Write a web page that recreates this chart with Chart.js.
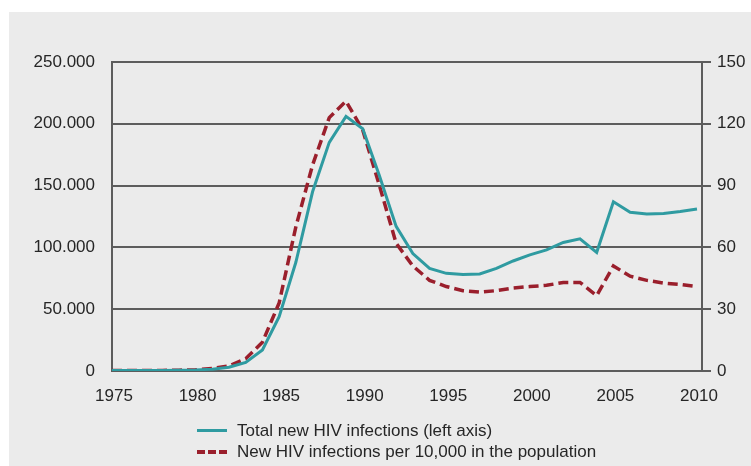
<!DOCTYPE html>
<html>
<head>
<meta charset="utf-8">
<script src="https://cdn.jsdelivr.net/npm/chart.js@4/dist/chart.umd.min.js"></script>
<style>
  body { margin: 0; background: #fff; width: 751px; height: 466px; overflow: hidden; }
  #box { position: absolute; left: 9px; top: 12px; width: 742px; height: 454px; background: #ebebeb; }
  #chart { position: absolute; left: 0; top: 0; }
  #legend { position: absolute; left: 188px; top: 408px; font: 17px "Liberation Sans", Arial, sans-serif; color: #262626; }
  .row { height: 21px; display: flex; align-items: center; }
  .swatch { width: 30px; height: 0; margin-right: 10px; }
</style>
</head>
<body>
<div id="box">
  <canvas id="chart" width="742" height="454"></canvas>
  <div id="legend"></div>
</div>
<script>
  // Données
  const years = [];
  for (let y = 1975; y <= 2010; y++) years.push(y);

  const totalInfections = [
    500, 500, 500, 500, 600, 900, 1500, 3000, 7000, 17000,
    44000, 88000, 145000, 185000, 206000, 196000, 158000, 117000, 95000, 83000,
    79000, 78000, 78500, 83000, 89000, 94000, 98000, 104000, 107000, 96000,
    137000, 128500, 127000, 127500, 129000, 131000
  ];
  const ratePer10000 = [
    0.3, 0.3, 0.3, 0.3, 0.4, 0.6, 1.2, 2.5, 6, 14,
    33, 70, 100, 123, 131, 117, 90, 62, 51, 44,
    41, 39, 38.3, 39, 40.3, 41, 41.6, 43, 43, 36.6,
    51, 46, 44, 42.7, 42, 41
  ];
  const seriesLabels = [
    "Total new HIV infections (left axis)",
    "New HIV infections per 10,000 in the population"
  ];
  const xTicks = [1975, 1980, 1985, 1990, 1995, 2000, 2005, 2010];
  const leftTicks = [0, 50000, 100000, 150000, 200000, 250000];
  const rightTicks = [0, 30, 60, 90, 120, 150];

  const TEAL = "#2f9ba1";
  const RED = "#9a1f2c";
  const GRID = "#5c5c5c";
  const TEXT = "#262626";
  const FONT = { family: "'Liberation Sans', Arial, sans-serif", size: 17 };

  // 250000 -> "250.000"
  function fmt(v) {
    return String(v).replace(/\B(?=(\d{3})+(?!\d))/g, ".");
  }

  const ctx = document.getElementById("chart").getContext("2d");
  const chart = new Chart(ctx, {
    type: "line",
    data: {
      datasets: [
        {
          label: seriesLabels[0],
          data: years.map((y, i) => ({ x: y, y: totalInfections[i] })),
          borderColor: TEAL,
          borderWidth: 3,
          pointRadius: 0,
          tension: 0,
          yAxisID: "y",
        },
        {
          label: seriesLabels[1],
          data: years.map((y, i) => ({ x: y, y: ratePer10000[i] })),
          borderColor: RED,
          borderWidth: 3.5,
          borderDash: [10, 5],
          pointRadius: 0,
          tension: 0,
          yAxisID: "y2",
        },
      ],
    },
    options: {
      responsive: false,
      animation: false,
      layout: { padding: { top: 50, left: 0, right: 0, bottom: 0 } },
      plugins: { legend: { display: false }, tooltip: { enabled: false } },
      scales: {
        x: {
          type: "linear",
          min: 1975,
          max: 2010.3,
          grid: { display: false },
          border: { display: true, color: GRID, width: 2 },
          afterBuildTicks: (s) => { s.ticks = xTicks.map((v) => ({ value: v })); },
          afterFit: (s) => { s.height = 95; },
          ticks: { color: TEXT, font: FONT, padding: 7, labelOffset: 2, maxRotation: 0, callback: (v) => String(v) },
        },
        y: {
          position: "left",
          min: 0,
          max: 250000,
          grid: { color: GRID, lineWidth: 2, drawTicks: false },
          border: { display: true, color: GRID, width: 2 },
          afterBuildTicks: (s) => { s.ticks = leftTicks.map((v) => ({ value: v })); },
          afterFit: (s) => { s.width = 103; },
          ticks: { color: TEXT, font: FONT, padding: 17, callback: (v) => fmt(v) },
        },
        y2: {
          position: "right",
          min: 0,
          max: 150,
          grid: { drawOnChartArea: false, color: GRID, lineWidth: 2, tickLength: 9 },
          border: { display: true, color: GRID, width: 2 },
          afterBuildTicks: (s) => { s.ticks = rightTicks.map((v) => ({ value: v })); },
          afterFit: (s) => { s.width = 49; },
          ticks: { color: TEXT, font: FONT, padding: 6 },
        },
      },
    },
  });

  /* LEGENDE (deux lignes, sous le graphique) */
  const legend = document.getElementById("legend");
  chart.data.datasets.forEach((ds) => {
    const row = document.createElement("div");
    row.className = "row";
    const sw = document.createElement("span");
    sw.className = "swatch";
    sw.style.borderTop = (ds.borderDash ? "4px dashed " : "3px solid ") + ds.borderColor;
    row.appendChild(sw);
    row.appendChild(document.createTextNode(ds.label));
    legend.appendChild(row);
  });
</script>
</body>
</html>
